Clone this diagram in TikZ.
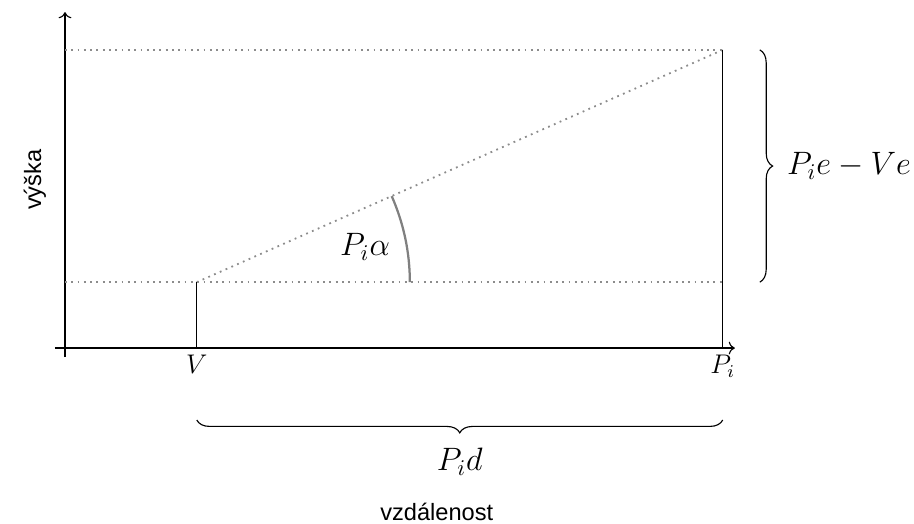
\documentclass[tikz,border=0pt]{standalone}
\usepackage{fontspec}
\usepackage{tikz}
\usetikzlibrary{arrows.meta,positioning,decorations.pathreplacing}
\newfontfamily\axisfont{Liberation Sans}

\begin{document}
\begin{tikzpicture}[
  x=1cm,y=1cm,
  axis/.style={->,line width=0.5pt,draw=black},
  guide/.style={dotted,line width=0.8pt,draw=black!45},
  post/.style={line width=0.5pt,draw=black},
  brace/.style={decorate,decoration={brace,amplitude=2mm},line width=0.5pt},
  anglearc/.style={line width=1pt,draw=black!50},
  tick/.style={font=\large,anchor=north,inner sep=2pt,yshift=-0.3mm},
  measure/.style={font=\Large},
  axlabel/.style={font=\axisfont\fontsize{10.5}{12.5}\selectfont,inner sep=0.5pt}
]
\useasboundingbox (-1.016,-2.75) rectangle (13.27,5.44);
\coordinate (O) at (0,0);
\coordinate (xend) at (10.47,0);
\coordinate (xstart) at (-0.16,0);
\coordinate (ystart) at (0,-0.14);
\coordinate (yend) at (0,5.25);
\coordinate (Vbase) at (2.06,0);
\coordinate (Vtop) at (2.06,1.03);
\coordinate (Pbase) at (10.28,0);
\coordinate (Ptop) at (10.28,4.66);
\coordinate (lowleft) at (0,1.03);
\coordinate (lowright) at (10.28,1.03);
\coordinate (highleft) at (0,4.66);

% axes
\draw[axis] (xstart) -- (xend);
\draw[axis] (ystart) -- (yend);

% guide lines
\draw[guide] (highleft) -- (Ptop);
\draw[guide] (lowleft) -- (lowright);
\draw[guide] (Vtop) -- (Ptop);

% posts
\draw[post] (Vbase) -- (Vtop);
\draw[post] (Pbase) -- (Ptop);

% angle
\draw[anglearc] ([xshift=3.33cm]Vtop) arc[start angle=0,end angle=23.8,radius=3.33cm];
\node[measure] (alpha) at (4.69,1.58) {$P_i\alpha$};

% ticks
\node[tick] (Vlabel) at (Vbase) {$V$};
\node[tick] (Plabel) at (Pbase) {$P_i$};

% braces
\draw[brace] (10.86,4.66) -- node[measure,right=3mm] (height) {$P_ie-Ve$} (10.86,1.03);
\draw[brace,decoration={mirror}] (2.06,-1.125) -- node[measure,yshift=-6.5mm] (dist) {$P_id$} (10.28,-1.125);

% axis labels
\node[axlabel,rotate=90] (ylab) at (-0.47,2.63) {výška};
\node[axlabel,anchor=base] (xlab) at (5.81,-2.69) {vzdálenost};
\end{tikzpicture}
\end{document}
